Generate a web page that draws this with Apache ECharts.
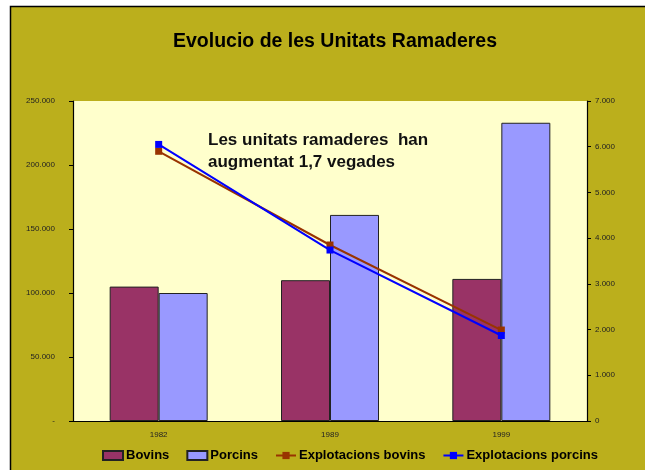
<!DOCTYPE html>
<html>
<head>
<meta charset="utf-8">
<script src="https://cdn.jsdelivr.net/npm/echarts@6/dist/echarts.min.js"></script>
<style>
  html, body { margin: 0; padding: 0; background: #fff; }
  #chart { width: 645px; height: 470px; }
</style>
</head>
<body>
<div id="chart"></div>
<script>
// dades
const years = ["1982", "1989", "1999"];
const bovins = [105000, 110000, 111000];
const porcins = [100000, 161000, 233000];
const explBovins = [5900, 3850, 1990];
const explPorcins = [6050, 3740, 1870];

const chart = echarts.init(document.getElementById("chart"));

// format 250000 -> "250.000", 0 -> "-"
const fmtLeft = (v) => (v === 0 ? "-" : v.toLocaleString("de-DE"));
const fmtRight = (v) => (v === 0 ? "0" : v.toLocaleString("de-DE"));

const font = "Liberation Sans, Arial, sans-serif";

const option = {
  backgroundColor: "#ffffff",
  textStyle: { fontFamily: font },
  graphic: [
    {
      type: "rect",
      z: -10,
      silent: true,
      shape: { x: 10.5, y: 6.5, width: 640, height: 470 },
      style: { fill: "#bbaf1c", stroke: "#000", lineWidth: 1.5 },
    },
    {
      type: "text",
      left: 208,
      top: 129,
      z: 50,
      style: {
        text: "Les unitats ramaderes  han\naugmentat 1,7 vegades",
        font: "bold 17px " + font,
        fill: "#111",
        lineHeight: 22,
      },
    },
  ],
  title: {
    text: "Evolucio de les Unitats Ramaderes",
    left: 330,
    textAlign: "center",
    top: 27,
    textStyle: { fontSize: 19.5, fontWeight: "bold", color: "#000", fontFamily: font },
  },
  grid: {
    left: 73,
    right: 58,
    top: 101,
    bottom: 49,
    show: true,
    backgroundColor: "#ffffcc",
    borderWidth: 0,
  },
  legend: {
    bottom: 3,
    left: 97,
    itemGap: 17,
    itemWidth: 20,
    itemHeight: 9,
    textStyle: { fontSize: 13, fontWeight: "bold", color: "#000", fontFamily: font, padding: [0, 0, 0, -2] },
    data: [
      { name: "Bovins", icon: "rect" },
      { name: "Porcins", icon: "rect" },
      { name: "Explotacions bovins" },
      { name: "Explotacions porcins" },
    ],
  },
  xAxis: {
    type: "category",
    data: years,
    axisLine: { lineStyle: { color: "#000", width: 1.2 } },
    axisTick: { length: 4, lineStyle: { color: "#000" } },
    axisLabel: { fontSize: 8, color: "#222", margin: 10 },
  },
  yAxis: [
    {
      type: "value",
      min: 0,
      max: 250000,
      interval: 50000,
      splitLine: { show: false },
      axisLine: { show: true, lineStyle: { color: "#000", width: 1.2 } },
      axisTick: { show: true, length: 4, lineStyle: { color: "#000" } },
      axisLabel: { fontSize: 8, color: "#222", formatter: fmtLeft, margin: 18 },
    },
    {
      type: "value",
      min: 0,
      max: 7000,
      interval: 1000,
      splitLine: { show: false },
      axisLine: { show: true, lineStyle: { color: "#000", width: 1.2 } },
      axisTick: { show: true, length: 4, lineStyle: { color: "#000" } },
      axisLabel: { fontSize: 8, color: "#222", formatter: fmtRight, margin: 8 },
    },
  ],
  series: [
    {
      name: "Bovins",
      type: "bar",
      data: bovins,
      barWidth: 49,
      barGap: "0%",
      itemStyle: { color: "#993366", borderColor: "#222", borderWidth: 1 },
    },
    {
      name: "Porcins",
      type: "bar",
      data: porcins,
      barWidth: 49,
      barGap: "0%",
      itemStyle: { color: "#9999ff", borderColor: "#222", borderWidth: 1 },
    },
    {
      name: "Explotacions bovins",
      type: "line",
      yAxisIndex: 1,
      data: explBovins,
      symbol: "rect",
      symbolSize: 7,
      lineStyle: { color: "#993300", width: 2 },
      itemStyle: { color: "#993300" },
      z: 5,
    },
    {
      name: "Explotacions porcins",
      type: "line",
      yAxisIndex: 1,
      data: explPorcins,
      symbol: "rect",
      symbolSize: 7,
      lineStyle: { color: "#0000ff", width: 2 },
      itemStyle: { color: "#0000ff" },
      z: 6,
    },
  ],
};

chart.setOption(option);
</script>
</body>
</html>
